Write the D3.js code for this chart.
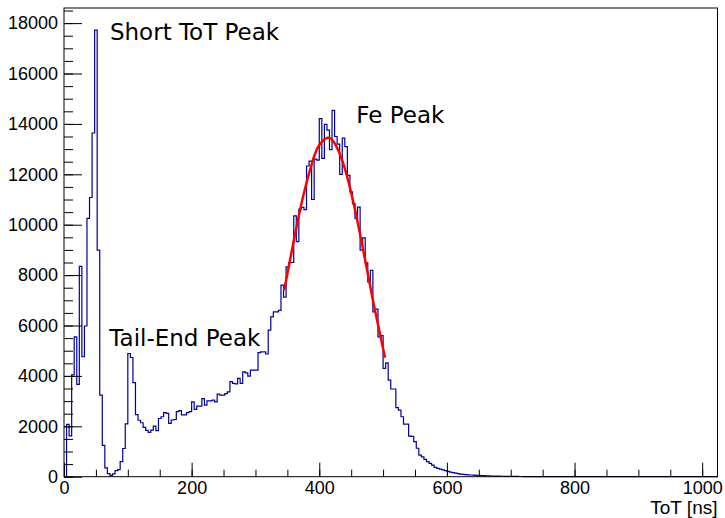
<!DOCTYPE html>
<html>
<head>
<meta charset="utf-8">
<script src="https://cdn.jsdelivr.net/npm/d3@7"></script>
<style>
  body { margin: 0; background: #fff; }
  svg { display: block; }
  .tick text { font-family: "Liberation Sans", Arial, sans-serif; font-size: 18px; fill: #000; }
  .note { font-family: "DejaVu Sans", sans-serif; font-size: 23px; fill: #000; }
</style>
</head>
<body>
<div id="chart"></div>
<script>
// ToT histogram, 4 ns bins from 0 to 1024 ns (256 bins)
const binWidth = 4;
const counts = [
  0, 2080, 1620, 4040, 5550, 3660, 8350, 4760, 5980, 10250,
  11080, 13640, 17720, 8990, 3240, 1240, 350, 120, 50, 110,
  240, 280, 600, 1120, 2100, 4890, 4730, 3730, 2460, 2240,
  2140, 1960, 1840, 1760, 1850, 2010, 1830, 2310, 2380, 2540,
  2510, 2120, 2250, 2270, 2580, 2620, 2450, 2450, 2540, 2580,
  2970, 2670, 2800, 2800, 3100, 2840, 3010, 3010, 3040, 2970,
  3280, 3240, 3240, 3300, 3370, 3770, 3700, 3680, 3900, 3700,
  4160, 4120, 3990, 4230, 4230, 4230, 4920, 4950, 4950, 4870,
  5820, 6340, 6540, 6540, 6600, 7600, 7130, 8330, 8490, 8500,
  10350, 9330, 10620, 10690, 10600, 12330, 12520, 11000, 12600, 12560,
  14210, 12630, 13980, 13750, 12980, 14540, 13500, 13200, 12000, 13440,
  13100, 11960, 11300, 10840, 10250, 10700, 8990, 9480, 8490, 7730,
  8190, 6540, 6650, 5550, 5600, 4300, 4520, 3830, 3480, 3480,
  2740, 2640, 2380, 2090, 2090, 1610, 1600, 1390, 1130, 860,
  790, 690, 600, 530, 460, 370, 330, 300, 270, 240,
  210, 180, 160, 140, 120, 105, 95, 85, 75, 68,
  60, 55, 50, 45, 40, 36, 32, 28, 25, 22,
  20, 18, 16, 14, 12, 11, 10, 9, 8, 7,
  6, 5, 5, 4, 4, 3, 3, 2, 2, 2,
  1, 1, 1, 1, 0, 1, 0, 1, 0, 0,
  1, 0, 0, 0, 1, 0, 0, 0, 0, 0,
  0, 0, 0, 0, 0, 0, 0, 0, 0, 0,
  0, 0, 0, 0, 0, 0, 0, 0, 0, 0,
  0, 0, 0, 0, 0, 0, 0, 0, 0, 0,
  0, 0, 0, 0, 0, 0, 0, 0, 0, 0,
  0, 0, 0, 0, 0, 0
];

// red fit over the Fe peak
const fitX = [345, 360, 375, 390, 400, 413, 425, 440, 455, 470, 485, 503];
const fitY = [7400, 9360, 11160, 12560, 13160, 13450, 13200, 12240, 10710, 8840, 6880, 4720];

const xMajor = [0, 200, 400, 600, 800, 1000];
const xMinor = d3.range(0, 1001, 50);
const yMajor = [0, 2000, 4000, 6000, 8000, 10000, 12000, 14000, 16000, 18000];
const yMinor = d3.range(0, 18501, 500);

const notes = [
  { text: "Short ToT Peak", x: 72, y: 17330 },
  { text: "Fe Peak", x: 458, y: 14020 },
  { text: "Tail-End Peak", x: 71, y: 5200 }
];

const xLabel = "ToT [ns]";

const width = 725, height = 518;
const frame = { left: 64, right: 717.5, top: 8, bottom: 476.7 };

const x = d3.scaleLinear().domain([0, 1024]).range([frame.left, frame.right]);
const y = d3.scaleLinear().domain([0, 18600]).range([frame.bottom, frame.top]);

const svg = d3.select("#chart")
  .append("svg")
  .attr("width", width)
  .attr("height", height);

svg.append("rect")
  .attr("width", width)
  .attr("height", height)
  .attr("fill", "#fff");

// histogram outline as steps
const stepPoints = counts.map((c, i) => [i * binWidth, c]);
stepPoints.push([counts.length * binWidth, counts[counts.length - 1]]);

const stepLine = d3.line()
  .x(d => x(d[0]))
  .y(d => y(d[1]))
  .curve(d3.curveStepAfter);

svg.append("path")
  .datum(stepPoints)
  .attr("d", stepLine)
  .attr("fill", "none")
  .attr("stroke", "#00009c")
  .attr("stroke-width", 1.2);

// fit
const fitLine = d3.line()
  .x(d => x(d[0]))
  .y(d => y(d[1]))
  .curve(d3.curveNatural);

svg.append("path")
  .datum(fitX.map((v, i) => [v, fitY[i]]))
  .attr("d", fitLine)
  .attr("fill", "none")
  .attr("stroke", "#ff0000")
  .attr("stroke-width", 2.5);

// axes, ticks drawn inwards like ROOT
svg.append("g")
  .attr("transform", `translate(0, ${frame.bottom})`)
  .call(d3.axisBottom(x).tickValues(xMinor).tickSize(-7).tickFormat(""))
  .call(g => g.select(".domain").remove());

svg.append("g")
  .attr("transform", `translate(0, ${frame.bottom})`)
  .call(d3.axisBottom(x).tickValues(xMajor).tickSize(-14).tickPadding(5).tickFormat(d3.format("d")))
  .call(g => g.select(".domain").remove());

svg.append("g")
  .attr("transform", `translate(${frame.left}, 0)`)
  .call(d3.axisLeft(y).tickValues(yMinor).tickSize(-9).tickFormat(""))
  .call(g => g.select(".domain").remove());

svg.append("g")
  .attr("transform", `translate(${frame.left}, 0)`)
  .call(d3.axisLeft(y).tickValues(yMajor).tickSize(-18).tickPadding(6).tickFormat(d3.format("d")))
  .call(g => g.select(".domain").remove());

svg.selectAll(".tick line").attr("stroke", "#000");

// frame
svg.append("rect")
  .attr("x", frame.left)
  .attr("y", frame.top)
  .attr("width", frame.right - frame.left)
  .attr("height", frame.bottom - frame.top)
  .attr("fill", "none")
  .attr("stroke", "#000")
  .attr("stroke-width", 1);

svg.append("text")
  .attr("x", frame.right)
  .attr("y", 514)
  .attr("text-anchor", "end")
  .attr("font-family", "Liberation Sans, Arial, sans-serif")
  .attr("font-size", 19)
  .text(xLabel);

svg.selectAll(".note")
  .data(notes)
  .join("text")
  .attr("class", "note")
  .attr("x", d => x(d.x))
  .attr("y", d => y(d.y))
  .text(d => d.text);
</script>
</body>
</html>
